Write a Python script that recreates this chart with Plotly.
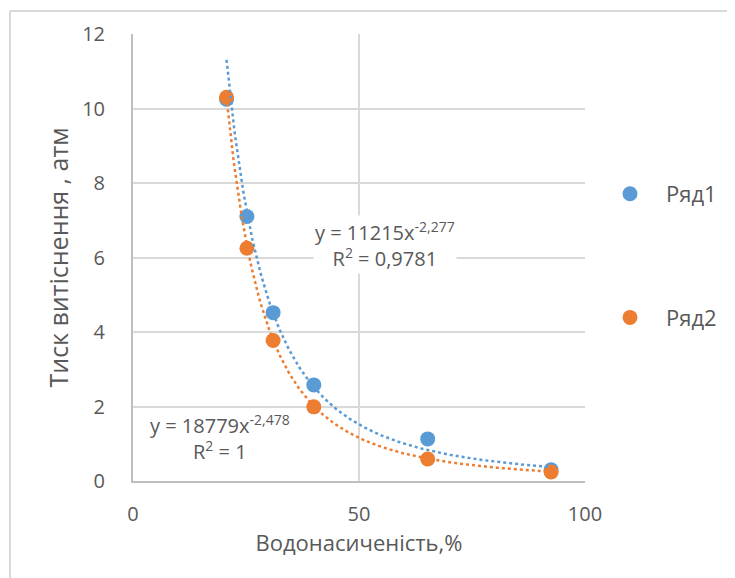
import numpy as np
import plotly.graph_objects as go

# Data
water_sat = [20.7, 25.2, 31.0, 40.0, 65.2, 92.5]
series1 = [10.25, 7.1, 4.52, 2.58, 1.13, 0.30]
series2 = [10.3, 6.25, 3.77, 1.99, 0.59, 0.24]
series_names = ["Ряд1", "Ряд2"]

# Trendline coefficients (as shown on chart)
trend1_a, trend1_b = 11215, -2.277
trend2_a, trend2_b = 18779, -2.478

x_ticks = [0, 50, 100]
y_ticks = [0, 2, 4, 6, 8, 10, 12]

BLUE = "#5B9BD5"
ORANGE = "#ED7D31"
TXT = "#595959"
FONT = "Open Sans"

W, H = 727, 570
L, T, PW, PH = 125, 26, 452, 447

xt = np.linspace(min(water_sat), max(water_sat), 300)

fig = go.Figure()
fig.add_trace(go.Scatter(x=water_sat, y=series1, mode="markers", name=series_names[0],
                         marker=dict(color=BLUE, size=15), legendgroup="a"))
fig.add_trace(go.Scatter(x=water_sat, y=series2, mode="markers", name=series_names[1],
                         marker=dict(color=ORANGE, size=15), legendgroup="b"))
fig.add_trace(go.Scatter(x=xt, y=trend1_a * xt ** trend1_b, mode="lines", showlegend=False,
                         line=dict(color=BLUE, width=2.5, dash="dot")))
fig.add_trace(go.Scatter(x=xt, y=trend2_a * xt ** trend2_b, mode="lines", showlegend=False,
                         line=dict(color=ORANGE, width=2.5, dash="dot")))

fig.add_annotation(x=55.8, y=6.34, xref="x", yref="y", showarrow=False,
                   text="y = 11215x<sup>-2,277</sup><br>R<sup>2</sup> = 0,9781",
                   font=dict(family=FONT, size=20, color=TXT), bgcolor="white", align="center")
fig.add_annotation(x=19.2, y=1.18, xref="x", yref="y", showarrow=False,
                   text="y = 18779x<sup>-2,478</sup><br>R<sup>2</sup> = 1",
                   font=dict(family=FONT, size=20, color=TXT), bgcolor="white", align="center")

# outer chart border (top and left visible)
bx = (2 - L) / PW
by = (T + PH - 3) / PH
fig.add_shape(type="line", xref="paper", yref="paper", x0=bx, x1=1.5, y0=by, y1=by,
              line=dict(color="#d9d9d9", width=2))
fig.add_shape(type="line", xref="paper", yref="paper", x0=bx, x1=bx, y0=by, y1=-0.4,
              line=dict(color="#d9d9d9", width=2))

fig.update_layout(
    width=W, height=H,
    margin=dict(l=L, r=W - L - PW, t=T, b=H - T - PH),
    paper_bgcolor="white", plot_bgcolor="white",
    font=dict(family=FONT, color=TXT),
    legend=dict(x=(586 - L) / PW, y=(T + PH - 165) / PH, xanchor="left", yanchor="top",
                font=dict(family=FONT, size=22, color=TXT),
                tracegroupgap=92, itemwidth=62),
    xaxis=dict(range=[0, 100], tickvals=x_ticks, showgrid=True, gridcolor="#d9d9d9", gridwidth=2,
               zeroline=False, showline=True, linecolor="#bfbfbf", linewidth=2,
               ticks="", tickfont=dict(size=20, color=TXT), ticklabelstandoff=14,
               title=dict(text="Водонасиченість,%", font=dict(size=22, color=TXT), standoff=2)),
    yaxis=dict(range=[0, 12], tickvals=y_ticks, showgrid=True, gridcolor="#d9d9d9", gridwidth=2,
               zeroline=False, showline=True, linecolor="#bfbfbf", linewidth=2,
               ticks="", tickfont=dict(size=20, color=TXT), ticklabelstandoff=22,
               title=dict(text="Тиск витіснення , атм", font=dict(size=25, color=TXT), standoff=6)),
)

fig.write_html("out.html", config={"displayModeBar": False})
